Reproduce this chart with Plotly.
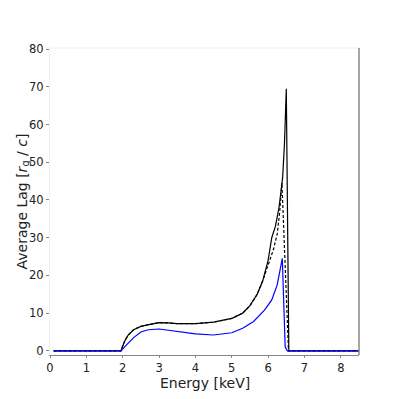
import plotly.graph_objects as go

# Black solid curve
solid_E = [0.1, 1.95, 2.05, 2.15, 2.3, 2.5, 2.75, 3.0, 3.25, 3.5, 4.0, 4.5, 5.0, 5.3, 5.5, 5.7, 5.85, 6.0, 6.1, 6.2, 6.3, 6.4, 6.45, 6.5, 6.57, 8.5]
solid_V = [0, 0, 2.5, 4.2, 5.6, 6.5, 7.0, 7.5, 7.4, 7.2, 7.2, 7.6, 8.6, 10.0, 12.0, 15.0, 18.5, 24.0, 30.0, 33.0, 38.0, 46.0, 55.0, 69.5, 0, 0]

# Black dashed curve
dash_E = [0.1, 1.95, 2.05, 2.15, 2.3, 2.5, 2.75, 3.0, 3.25, 3.5, 4.0, 4.5, 5.0, 5.3, 5.5, 5.7, 5.85, 5.95, 6.05, 6.15, 6.25, 6.32, 6.38, 6.56, 8.5]
dash_V = [0, 0, 2.5, 4.2, 5.6, 6.5, 7.0, 7.5, 7.4, 7.2, 7.2, 7.6, 8.6, 10.0, 12.0, 15.0, 18.5, 21.5, 24.5, 27.0, 31.0, 37.0, 44.5, 0, 0]

# Blue curve
blue_E = [0.1, 1.95, 2.1, 2.3, 2.5, 2.7, 3.0, 3.5, 4.0, 4.5, 5.0, 5.3, 5.6, 5.9, 6.1, 6.25, 6.39, 6.47, 6.53, 8.5]
blue_V = [0, 0, 1.5, 3.5, 5.0, 5.6, 5.8, 5.1, 4.5, 4.2, 4.8, 6.0, 7.8, 10.8, 13.5, 17.5, 24.5, 1.0, 0, 0]

x_ticks = [0, 1, 2, 3, 4, 5, 6, 7, 8]
y_ticks = [0, 10, 20, 30, 40, 50, 60, 70, 80]

x_title = "Energy [keV]"
y_title = "Average Lag [<i>r</i><sub>g</sub> / <i>c</i>]"

fig = go.Figure()
fig.add_trace(go.Scatter(x=solid_E, y=solid_V, mode="lines",
                         line=dict(color="black", width=1.2), showlegend=False))
fig.add_trace(go.Scatter(x=dash_E, y=dash_V, mode="lines",
                         line=dict(color="black", width=1.2, dash="3px,2px"), showlegend=False))
fig.add_trace(go.Scatter(x=blue_E, y=blue_V, mode="lines",
                         line=dict(color="#0000ff", width=1.2), showlegend=False))

font = "DejaVu Sans"
fig.update_layout(
    width=391, height=391,
    margin=dict(l=42, r=40, t=40, b=44),
    paper_bgcolor="white", plot_bgcolor="white",
    font=dict(family=font, color="#222222", size=12),
    xaxis=dict(range=[0, 8.5], tickvals=x_ticks, ticktext=[str(v) for v in x_ticks],
               automargin=False,
               showgrid=False, zeroline=False, showline=True, linecolor="#888888", linewidth=1,
               ticks="outside", ticklen=2, tickcolor="#888888",
               tickfont=dict(size=11.5)),
    yaxis=dict(range=[-1.1, 80.3], tickvals=y_ticks, ticktext=[str(v) for v in y_ticks],
               automargin=False,
               showgrid=False, zeroline=False, showline=True, linecolor="#eeeeee", linewidth=1,
               ticks="outside", ticklen=3, tickcolor="#888888",
               tickfont=dict(size=11.5)),
    annotations=[
        dict(text=x_title, xref="paper", yref="paper", x=0.5, y=0, xanchor="center",
             yanchor="top", yshift=-18, showarrow=False,
             font=dict(size=14, family=font, color="#222222")),
        dict(text=y_title, xref="paper", yref="paper", x=0, y=0.5, xanchor="center",
             yanchor="middle", xshift=-28, textangle=-90, showarrow=False,
             font=dict(size=14, family=font, color="#222222")),
    ],
    shapes=[
        dict(type="line", xref="paper", yref="paper", x0=0, x1=1, y0=1, y1=1,
             line=dict(color="#eeeeee", width=1)),
        dict(type="line", xref="paper", yref="paper", x0=1, x1=1, y0=0, y1=1,
             line=dict(color="#888888", width=1.5)),
    ],
)

fig.write_html("out.html")
